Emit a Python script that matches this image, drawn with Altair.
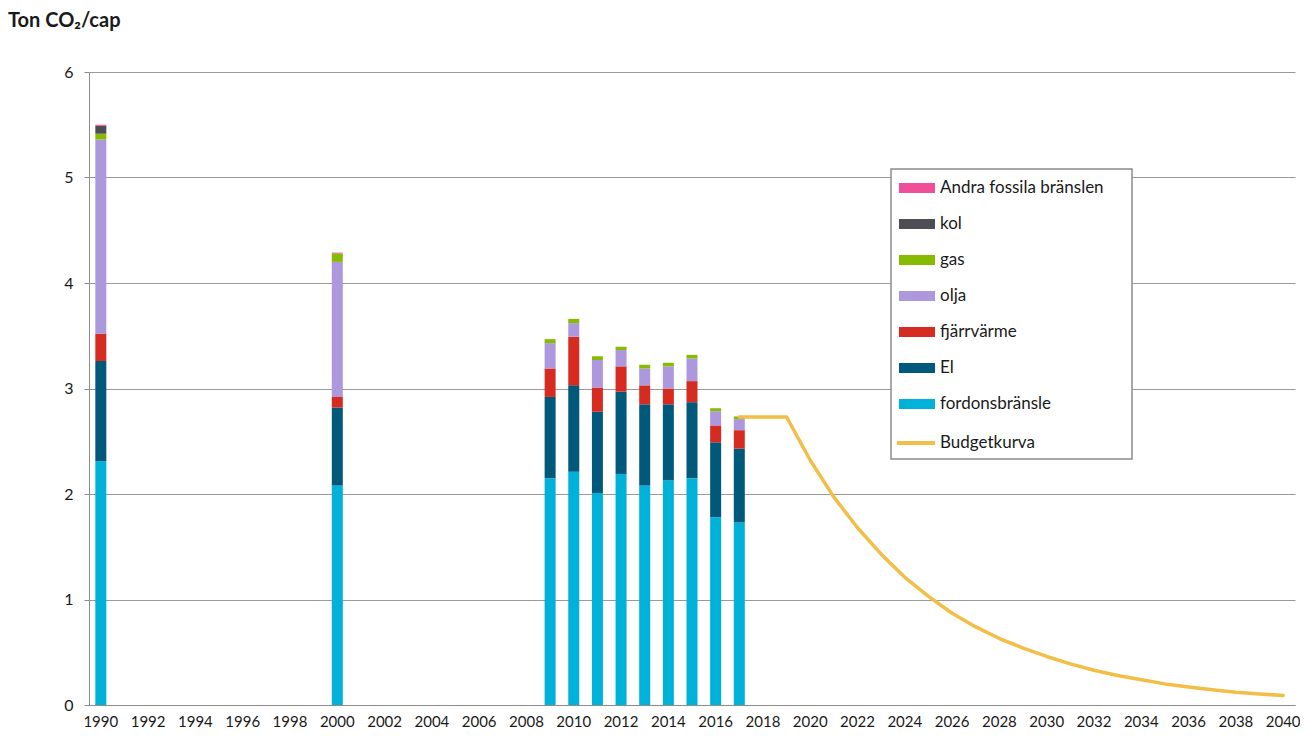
import altair as alt
import pandas as pd

# ---- data ----
bar_years = [1990, 2000, 2009, 2010, 2011, 2012, 2013, 2014, 2015, 2016, 2017]
fordonsbransle = [2.31, 2.08, 2.15, 2.21, 2.01, 2.19, 2.08, 2.13, 2.15, 1.78, 1.73]
el = [0.95, 0.74, 0.77, 0.82, 0.77, 0.78, 0.77, 0.72, 0.72, 0.71, 0.70]
fjarrvarme = [0.26, 0.10, 0.27, 0.46, 0.23, 0.24, 0.18, 0.15, 0.20, 0.16, 0.175]
olja = [1.84, 1.28, 0.24, 0.13, 0.26, 0.155, 0.16, 0.21, 0.215, 0.135, 0.105]
gas = [0.055, 0.08, 0.038, 0.04, 0.035, 0.031, 0.035, 0.034, 0.034, 0.028, 0.025]
kol = [0.075, 0.0, 0.0, 0.0, 0.0, 0.0, 0.0, 0.0, 0.0, 0.0, 0.0]
andra = [0.01, 0.008, 0.0, 0.0, 0.0, 0.0, 0.0, 0.0, 0.0, 0.0, 0.0]

budget_years = list(range(2017, 2041))
budget_values = [2.73, 2.73, 2.73, 2.32, 1.97, 1.68, 1.43, 1.21, 1.03, 0.87,
                 0.74, 0.63, 0.54, 0.46, 0.39, 0.33, 0.28, 0.24, 0.20, 0.17,
                 0.145, 0.12, 0.105, 0.09]

all_years = list(range(1990, 2041))
label_years = list(range(1990, 2041, 2))
y_ticks = [0, 1, 2, 3, 4, 5, 6]

bar_names = ["Andra fossila bränslen", "kol", "gas", "olja", "fjärrvärme",
             "El", "fordonsbränsle"]
bar_colors = ["#EE4F97", "#4D4E53", "#86BC00", "#AE98DD", "#D62B20",
              "#00587A", "#00B1DA"]
line_name = "Budgetkurva"
line_color = "#F2BE45"

# ---- tables ----
stack = [("fordonsbränsle", fordonsbransle), ("El", el), ("fjärrvärme", fjarrvarme),
         ("olja", olja), ("gas", gas), ("kol", kol), ("Andra fossila bränslen", andra)]
rows = []
for order, (name, vals) in enumerate(stack):
    for y, v in zip(bar_years, vals):
        rows.append({"year": y, "serie": name, "value": v, "ord": order})
bars_df = pd.DataFrame(rows)
line_df = pd.DataFrame({"year": budget_years, "value": budget_values,
                        "serie": [line_name] * len(budget_years)})

FONT = "Lato"
TXT = "#1a1a1a"
GRAY = "#8C8C8C"

x_enc = alt.X("year:O", scale=alt.Scale(domain=all_years, paddingInner=0.53,
                                        paddingOuter=0.265),
              axis=alt.Axis(values=label_years, labelAngle=0, title=None,
                            ticks=False, labelPadding=9, labelFontSize=15,
                            domainColor=GRAY, grid=False))
y_scale = alt.Scale(domain=[0, 6], nice=False)

rect_path = "M-1,-0.28H1V0.28H-1Z"

bar_legend = alt.Legend(
    title=None, orient="none", legendX=810, legendY=98,
    labelFont=FONT, labelFontSize=17, labelColor=TXT, labelLimit=400,
    symbolSize=1296, symbolType=rect_path, symbolStrokeWidth=0,
    symbolOpacity=1, labelOffset=5, rowPadding=10, padding=0,
)
line_legend = alt.Legend(
    title=None, orient="none", legendX=806, legendY=350,
    labelFont=FONT, labelFontSize=17, labelColor=TXT, labelLimit=400,
    symbolSize=1444, symbolType="stroke", symbolStrokeWidth=4,
    labelOffset=3, padding=0,
)

bars = alt.Chart(bars_df).mark_bar(size=11).encode(
    x=x_enc,
    y=alt.Y("value:Q", stack="zero", scale=y_scale,
            axis=alt.Axis(values=y_ticks, format="d", title=None,
                          labelFontSize=16, labelPadding=11, tickSize=5,
                          tickColor=GRAY, domainColor=GRAY,
                          gridColor="#9A9A9A", gridWidth=1)),
    color=alt.Color("serie:N", scale=alt.Scale(domain=bar_names, range=bar_colors),
                    legend=bar_legend),
    order=alt.Order("ord:Q"),
)

line = alt.Chart(line_df).mark_line(strokeWidth=3.5, strokeJoin="round",
                                    strokeCap="round").encode(
    x=alt.X("year:O"),
    y=alt.Y("value:Q", scale=y_scale),
    stroke=alt.Stroke("serie:N", scale=alt.Scale(domain=[line_name], range=[line_color]),
                      legend=line_legend),
)

frame = alt.Chart(pd.DataFrame({"k": [0]})).mark_rect(
    fill="white", stroke=GRAY, strokeWidth=1.5
).encode(x=alt.value(802), x2=alt.value(1043), y=alt.value(97), y2=alt.value(387))

chart = alt.layer(bars, line, frame).resolve_scale(color="independent").properties(
    width=1206, height=633,
    padding={"left": 81, "top": 64, "right": 5, "bottom": 25},
    autosize=alt.AutoSizeParams(type="none"),
    title=alt.TitleParams("Ton CO₂/cap", anchor="start", frame="group",
                          dx=-81, fontSize=20, font=FONT,
                          fontWeight="bold", color=TXT, offset=33),
).configure_view(stroke=None).configure_axis(
    labelFont=FONT, labelColor=TXT
)

chart.save("out.html", embed_options={"renderer": "svg", "actions": False})
